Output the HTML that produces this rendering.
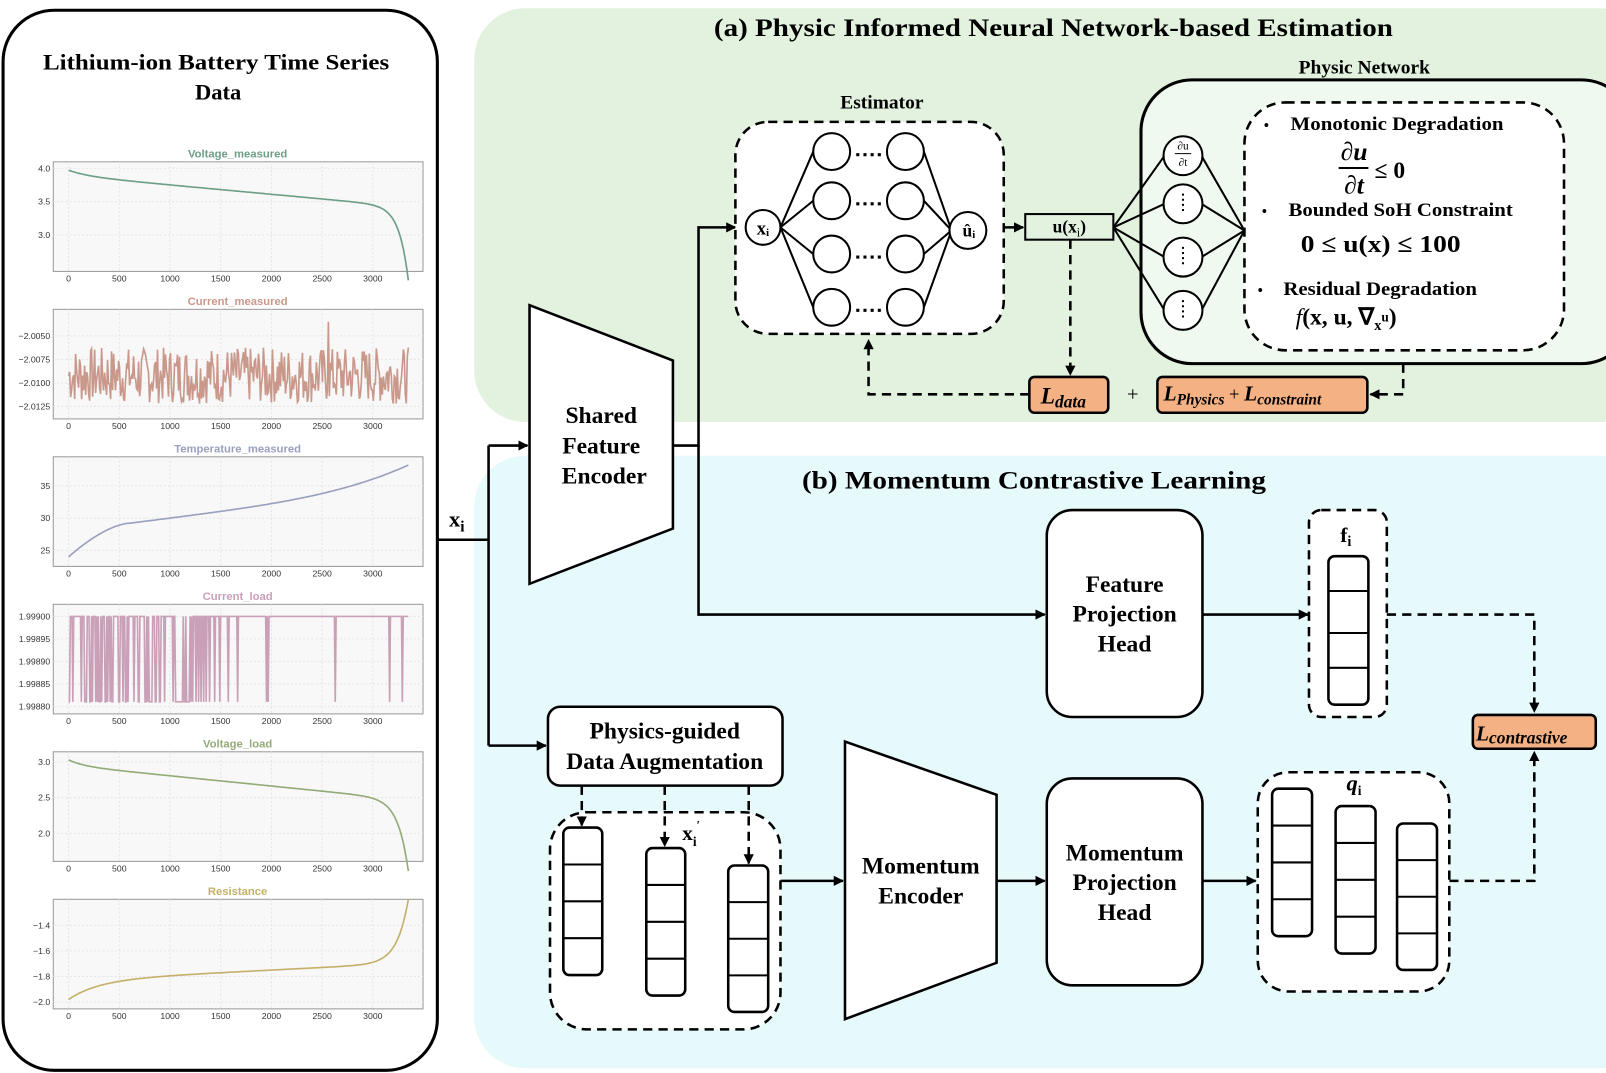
<!DOCTYPE html>
<html><head><meta charset="utf-8"><style>
html,body{margin:0;padding:0;background:#fff}
svg{display:block;font-family:"Liberation Serif",serif}
.b{font-weight:bold}
</style></head><body>
<svg id="s" width="1606" height="1073" viewBox="0 0 1568 1047.6" preserveAspectRatio="none" xmlns="http://www.w3.org/2000/svg">
<defs>
<marker id="ar" markerWidth="10" markerHeight="10" refX="9" refY="5" orient="auto" markerUnits="userSpaceOnUse"><path d="M0,0 L10,5 L0,10 z" fill="#000"/></marker>
</defs>
<rect x="463" y="8" width="1150" height="404" rx="50" fill="#e2f2df"/>
<rect x="463" y="445" width="1150" height="598" rx="50" fill="#e6f9fb"/>
<rect x="3" y="10" width="424" height="1035" rx="50" fill="#fff" stroke="#000" stroke-width="3"/>
<text x="42" y="68" class="b" font-size="22" textLength="338" lengthAdjust="spacingAndGlyphs">Lithium-ion Battery Time Series</text>
<text x="213" y="97" text-anchor="middle" class="b" font-size="22">Data</text>
<g id="plots" font-family="Liberation Sans,sans-serif"></g>

<text x="697" y="35" class="b" font-size="25" textLength="663" lengthAdjust="spacingAndGlyphs">(a) Physic Informed Neural Network-based Estimation</text>
<text x="783" y="477" class="b" font-size="25" textLength="453" lengthAdjust="spacingAndGlyphs">(b) Momentum Contrastive Learning</text>

<g stroke="#000" stroke-width="2.5" fill="none">
<path d="M427,527 H477 M477,435 V728"/>
<path d="M477,435 H515" marker-end="url(#ar)"/>
<path d="M477,728 H533" marker-end="url(#ar)"/>
<path d="M657,435 H682 V222 H718" marker-end="url(#ar)"/>
<path d="M682,435 V600 H1020" marker-end="url(#ar)"/>
<path d="M980,222 H999" marker-end="url(#ar)"/>
<path d="M1174,600 H1277" marker-end="url(#ar)"/>
<path d="M762,860 H823" marker-end="url(#ar)"/>
<path d="M973,860 H1020" marker-end="url(#ar)"/>
<path d="M1174,860 H1226" marker-end="url(#ar)"/>
</g>
<text x="446" y="514" text-anchor="middle" class="b" font-size="22">x<tspan font-size="15" dy="5">i</tspan></text>

<polygon points="517,298 657,352 657,516 517,570" fill="#fff" stroke="#000" stroke-width="2.5"/>
<g class="b" font-size="23" text-anchor="middle"><text x="587" y="413">Shared</text><text x="587" y="443">Feature</text><text x="590" y="472">Encoder</text></g>

<text x="861" y="106" text-anchor="middle" class="b" font-size="19">Estimator</text>
<rect x="718" y="119" width="262" height="207" rx="32" fill="#fff" stroke="#000" stroke-width="2.5" stroke-dasharray="9,6"/>
<g stroke="#000" stroke-width="2" fill="none" id="net"></g>

<rect x="1001" y="209" width="86" height="25" fill="#e2f2df" stroke="#000" stroke-width="2"/>
<text x="1044" y="227" text-anchor="middle" class="b" font-size="17">u(x<tspan font-size="12" dy="4" font-weight="normal">i</tspan><tspan dy="-4">)</tspan></text>

<text x="1332" y="72" text-anchor="middle" class="b" font-size="19">Physic Network</text>
<rect x="1114" y="78" width="480" height="277" rx="50" fill="#f0f9ef" stroke="#000" stroke-width="3"/>
<rect x="1215" y="100" width="312" height="242" rx="40" fill="#fff" stroke="#000" stroke-width="2.5" stroke-dasharray="9,6"/>
<g stroke="#000" stroke-width="2" id="pnet"></g>
<g class="b" font-size="19">
<text x="1234" y="127" font-size="14">•</text><text x="1260" y="127" textLength="208" lengthAdjust="spacingAndGlyphs">Monotonic Degradation</text>
<text x="1322" y="156" text-anchor="middle" font-style="italic" font-size="25">∂u</text>
<line x1="1307" y1="164" x2="1336" y2="164" stroke="#000" stroke-width="2"/>
<text x="1322" y="189" text-anchor="middle" font-style="italic" font-size="25">∂t</text>
<text x="1342" y="174" font-size="23">≤ 0</text>
<text x="1232" y="211" font-size="14">•</text><text x="1258" y="211" textLength="219" lengthAdjust="spacingAndGlyphs">Bounded SoH Constraint</text>
<text x="1270" y="246" font-size="24" textLength="156" lengthAdjust="spacingAndGlyphs">0 ≤ u(x) ≤ 100</text>
<text x="1228" y="288" font-size="14">•</text><text x="1253" y="288" textLength="189" lengthAdjust="spacingAndGlyphs">Residual Degradation</text>
<text x="1265" y="317" font-size="23"><tspan font-style="italic" font-weight="normal">f</tspan>(x, u, ∇<tspan font-size="14" dy="5">x</tspan><tspan font-size="13" dy="-8">u</tspan><tspan dy="3">)</tspan></text>
</g>

<rect x="1005" y="368" width="77" height="35" rx="5" fill="#f4b183" stroke="#000" stroke-width="2.5"/>
<text x="1016" y="394" class="b" font-style="italic" font-size="23">L<tspan font-size="17" dy="4">data</tspan></text>
<text x="1106" y="391" text-anchor="middle" font-size="20">+</text>
<rect x="1130" y="368" width="205" height="35" rx="5" fill="#f4b183" stroke="#000" stroke-width="2.5"/>
<text x="1136" y="391" class="b" font-style="italic" font-size="21">L<tspan font-size="15" dy="4">Physics</tspan><tspan dy="-4" font-style="normal" font-weight="normal" font-size="18">   + </tspan>L<tspan font-size="15" dy="4">constraint</tspan></text>
<g stroke="#000" stroke-width="2.5" fill="none" stroke-dasharray="9,6">
<path d="M1045,234 V366" marker-end="url(#ar)"/>
<path d="M1005,385 H848 V332" marker-end="url(#ar)"/>
<path d="M1370,355 V385 H1338" marker-end="url(#ar)"/>
</g>

<rect x="1022" y="498" width="152" height="202" rx="25" fill="#fff" stroke="#000" stroke-width="2.5"/>
<g class="b" font-size="23" text-anchor="middle"><text x="1098" y="578">Feature</text><text x="1098" y="607">Projection</text><text x="1098" y="636">Head</text></g>
<rect x="1278" y="498" width="76" height="202" rx="12" fill="#fff" stroke="#000" stroke-width="2.5" stroke-dasharray="9,6"/>
<text x="1314" y="529" text-anchor="middle" class="b" font-size="21">f<tspan font-size="14" dy="4">i</tspan></text>
<rect x="1297" y="543" width="39" height="145" rx="6" fill="#fff" stroke="#000" stroke-width="2.5"/>
<path d="M1297,577 H1336 M1297,618 H1336 M1297,652 H1336" stroke="#000" stroke-width="2"/>
<g stroke="#000" stroke-width="2.5" fill="none" stroke-dasharray="9,6">
<path d="M1354,600 H1498 V695" marker-end="url(#ar)"/>
<path d="M1415,860 H1498 V734" marker-end="url(#ar)"/>
</g>
<rect x="1438" y="698" width="120" height="33" rx="5" fill="#f4b183" stroke="#000" stroke-width="2.5"/>
<text x="1441" y="723" class="b" font-style="italic" font-size="21">L<tspan font-size="17" dy="3">contrastive</tspan></text>

<rect x="535" y="690" width="229" height="77" rx="12" fill="#fff" stroke="#000" stroke-width="2.5"/>
<g class="b" font-size="23" text-anchor="middle"><text x="649" y="721">Physics-guided</text><text x="649" y="751">Data Augmentation</text></g>
<rect x="537" y="793" width="225" height="212" rx="36" fill="#fff" stroke="#000" stroke-width="2.5" stroke-dasharray="9,6"/>
<g stroke="#000" stroke-width="2.5" fill="none" stroke-dasharray="9,6">
<path d="M568,767 V806" marker-end="url(#ar)"/>
<path d="M649,767 V826" marker-end="url(#ar)"/>
<path d="M731,767 V843" marker-end="url(#ar)"/>
</g>
<text x="666" y="820" class="b" font-size="21">x<tspan font-size="13" dy="6">i</tspan><tspan font-size="12" dy="-16">′</tspan></text>

<polygon points="825,724 973,776 973,940 825,995" fill="#fff" stroke="#000" stroke-width="2.5"/>
<g class="b" font-size="23" text-anchor="middle"><text x="899" y="853">Momentum</text><text x="899" y="882">Encoder</text></g>
<rect x="1022" y="760" width="152" height="202" rx="25" fill="#fff" stroke="#000" stroke-width="2.5"/>
<g class="b" font-size="23" text-anchor="middle"><text x="1098" y="840">Momentum</text><text x="1098" y="869">Projection</text><text x="1098" y="898">Head</text></g>
<rect x="1228" y="754" width="187" height="214" rx="30" fill="#fff" stroke="#000" stroke-width="2.5" stroke-dasharray="9,6"/>
<text x="1322" y="772" text-anchor="middle" class="b" font-style="italic" font-size="22">q<tspan font-size="13" dy="4" font-style="normal">i</tspan></text>
<g id="stacks"></g>
</svg>
<script>
var NS="http://www.w3.org/2000/svg";
function el(p,t,a,txt){var e=document.createElementNS(NS,t);for(var k in a)e.setAttribute(k,a[k]);if(txt!=null)e.textContent=txt;p.appendChild(e);return e;}
var net=document.getElementById('net');
var c1=[148,196,248,300];
c1.forEach(function(y){el(net,'line',{x1:762,y1:222,x2:794,y2:y});el(net,'line',{x1:902,y1:y,x2:929,y2:225});});
el(net,'circle',{cx:745,cy:222,r:17,fill:'#fff'});
el(net,'circle',{cx:945,cy:225,r:18,fill:'#fff'});
c1.forEach(function(y){el(net,'circle',{cx:812,cy:y,r:18,fill:'#fff'});el(net,'circle',{cx:884,cy:y,r:18,fill:'#fff'});
 el(net,'line',{x1:836,y1:y+3,x2:862,y2:y+3,'stroke-dasharray':'3,4','stroke-width':3});});
var s=document.getElementById('s');
el(s,'text',{x:745,y:229,'text-anchor':'middle','font-weight':'bold','font-size':18},'xᵢ');
el(s,'text',{x:946,y:231,'text-anchor':'middle','font-weight':'bold','font-size':17},'ûᵢ');
var pn=document.getElementById('pnet');var py=[152,199,251,303];
py.forEach(function(y){el(pn,'line',{x1:1087,y1:222,x2:1137,y2:y});el(pn,'line',{x1:1173,y1:y,x2:1215,y2:225});});
py.forEach(function(y,i){el(pn,'circle',{cx:1155,cy:y,r:19,fill:'#fff'});
 if(i>0)el(pn,'line',{x1:1155,y1:y-10,x2:1155,y2:y+10,'stroke-dasharray':'2,3','stroke-width':2});});
el(s,'text',{x:1155,y:146,'text-anchor':'middle','font-size':11},'∂u');
el(s,'line',{x1:1147,y1:150,x2:1163,y2:150,stroke:'#000'});
el(s,'text',{x:1155,y:162,'text-anchor':'middle','font-size':11},'∂t');
var st=document.getElementById('stacks');
function stack(x,y,w,h,n){el(st,'rect',{x:x,y:y,width:w,height:h,rx:6,fill:'#fff',stroke:'#000','stroke-width':2.5});
 for(var i=1;i<n;i++){var yy=y+h*i/n;el(st,'line',{x1:x,y1:yy,x2:x+w,y2:yy,stroke:'#000','stroke-width':2});}}
stack(550,808,38,144,4);stack(631,828,38,144,4);stack(711,845,39,143,4);
stack(1242,770,39,144,4);stack(1304,787,39,144,4);stack(1364,804,39,143,4);
var pg=document.getElementById('plots');
var seed=7;function rnd(){seed=(seed*9301+49297)%233280;return seed/233280;}
function plot(top,title,col,fn,ymin,ymax,ticks,fmt,n){
 var L=52,R=413,T=top,B=top+107;
 el(pg,'rect',{x:L,y:T,width:R-L,height:B-T,fill:'#f8f8f8',stroke:'#999','stroke-width':1});
 el(pg,'text',{x:232,y:T-4,'text-anchor':'middle','font-size':11,'font-weight':'bold',fill:col},title);
 function X(t){return 67+t*0.0990;}function Y(v){return B-3-(v-ymin)/(ymax-ymin)*(B-T-6);}
 for(var t=0;t<=3000;t+=500){el(pg,'line',{x1:X(t),y1:T,x2:X(t),y2:B,stroke:'#e4e4e4','stroke-dasharray':'2,2'});
  el(pg,'text',{x:X(t),y:B+10,'text-anchor':'middle','font-size':8.5,fill:'#333'},''+t);}
 ticks.forEach(function(v){el(pg,'line',{x1:L,y1:Y(v),x2:R,y2:Y(v),stroke:'#e4e4e4','stroke-dasharray':'2,2'});
  el(pg,'text',{x:L-3,y:Y(v)+3,'text-anchor':'end','font-size':8.5,fill:'#333'},fmt(v));});
 var d='';n=n||200;for(var i=0;i<=n;i++){var t=3350*i/n;d+=(i?'L':'M')+X(t).toFixed(1)+','+Y(fn(t,i)).toFixed(1);}
 el(pg,'path',{d:d,fill:'none',stroke:col,'stroke-width':1.6});
}
plot(158,'Voltage_measured','#6e9e86',function(t){return 3.97-0.42*t/3000-0.08*(1-Math.exp(-t/200))-1.1*Math.exp((t-3350)/90);},2.5,4.05,[4.0,3.5,3.0],function(v){return v.toFixed(1);});
plot(302,'Current_measured','#c9988a',function(t,i){if(i==260)return -2.0035;return -2.0092+(rnd()-0.5)*0.006;},-2.0135,-2.0025,[-2.005,-2.0075,-2.01,-2.0125],function(v){return '\u2212'+(-v).toFixed(4);},340);
plot(446,'Temperature_measured','#9aa0be',function(t){if(t<600){var u=t/600;return 24+5.2*(1-Math.pow(1-u,1.6));}var u=(t-600)/2750;return 29.2+5.5*u+3.5*Math.pow(u,4);},23,39,[35,30,25],function(v){return ''+v;});
seed=3;var cl=[];for(var i=0;i<=400;i++)cl.push(rnd()<(i<180?0.35:0.03));
plot(590,'Current_load','#c9a0b8',function(t,i){return cl[i]?1.99881:1.99900;},1.99879,1.99902,[1.999,1.99895,1.9989,1.99885,1.9988],function(v){return v.toFixed(5);},400);
plot(734,'Voltage_load','#93ab78',function(t){return 3.03-0.43*t/3000-0.08*(1-Math.exp(-t/150))-1.0*Math.exp((t-3350)/100);},1.65,3.1,[3.0,2.5,2.0],function(v){return v.toFixed(1);});
plot(878,'Resistance','#c4b06a',function(t){return -1.98+0.15*(1-Math.exp(-t/300))+0.12*t/3000+0.5*Math.exp((t-3350)/110);},-2.03,-1.22,[-1.4,-1.6,-1.8,-2.0],function(v){return '\u2212'+(-v).toFixed(1);});
</script>
</body></html>
